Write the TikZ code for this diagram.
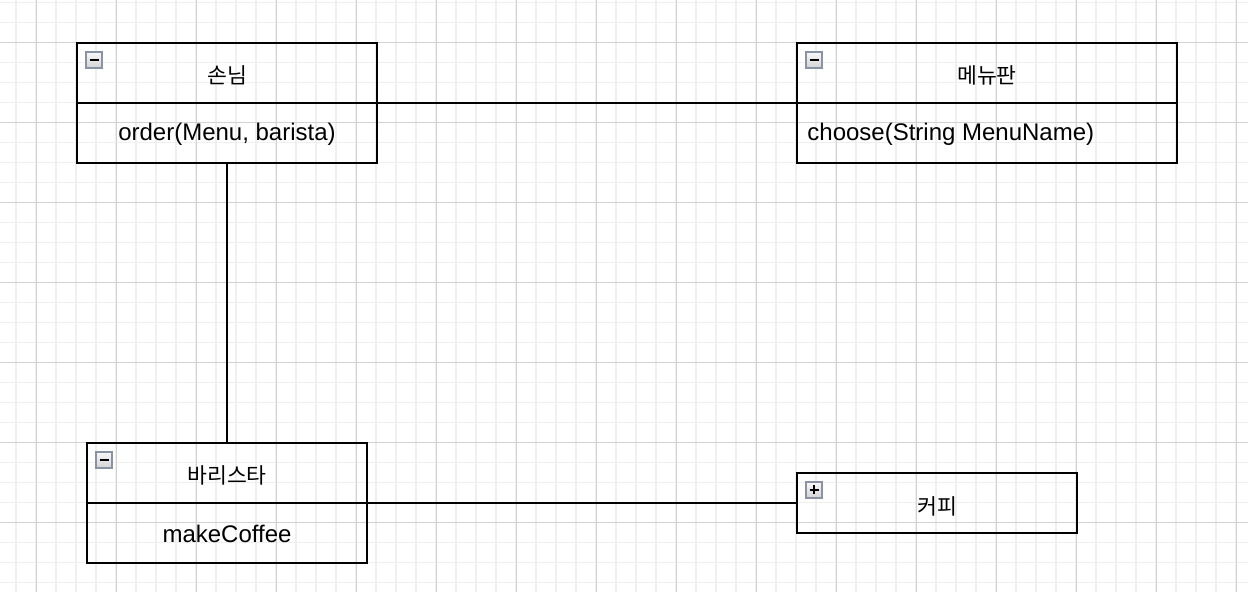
\documentclass[tikz,border=0pt]{standalone}
\usepackage{fontspec}
\setmainfont{Liberation Sans}
\newfontfamily\krfont{Noto Sans CJK KR}
\usetikzlibrary{calc}
\definecolor{gminor}{HTML}{EFEFEF}
\definecolor{gmajor}{HTML}{D2D2D2}
\definecolor{iconborder}{HTML}{8A92A5}
\tikzset{
  classbox/.style={draw, line width=1pt, rectangle, inner sep=0pt},
  divider/.style={line width=1pt},
  conn/.style={line width=1pt},
  krlabel/.style={inner sep=0pt, font=\krfont\fontsize{10.8pt}{12pt}\selectfont},
  oplabel/.style={inner sep=0pt, font=\fontsize{12pt}{14pt}\selectfont},
  iconframe/.style={top color=gray!5, bottom color=gray!35, draw=iconborder, line width=1pt},
  togglemin/.pic={
    \shade[iconframe] (0,0) rectangle (16,16);
    \draw[line width=1pt] (3.5,8) -- (12.5,8);
  },
  toggleplus/.pic={
    \shade[iconframe] (0,0) rectangle (16,16);
    \draw[line width=1pt] (3.5,8) -- (12.5,8);
    \draw[line width=1pt] (8,3.5) -- (8,12.5);
  }
}
\begin{document}
\begin{tikzpicture}[x=0.5pt,y=-0.5pt]
\useasboundingbox (0,0) rectangle (1248,592);
\fill[white] (0,0) rectangle (1248,592);
% grid
\foreach \gx in {16,36,...,1240} \draw[gminor, line width=0.7pt] (\gx,0) -- (\gx,592);
\foreach \gy in {2.5,22.5,...,592} \draw[gminor, line width=0.7pt] (0,\gy) -- (1248,\gy);
\foreach \gx in {36,116,...,1240} \draw[gmajor, line width=0.5pt] (\gx,0) -- (\gx,592);
\foreach \gy in {42.5,122.5,...,592} \draw[gmajor, line width=0.5pt] (0,\gy) -- (1248,\gy);

% class boxes
\node[classbox, minimum width=150pt, minimum height=60pt] (customer) at (227,103) {};
\node[classbox, minimum width=190pt, minimum height=60pt] (menu) at (987,103) {};
\node[classbox, minimum width=140pt, minimum height=60pt] (barista) at (227,503) {};
\node[classbox, minimum width=140pt, minimum height=30pt] (coffee) at (937,503) {};

\draw[divider] (customer.west) -- (customer.east);
\draw[divider] (menu.west) -- (menu.east);
\draw[divider] (barista.west) -- (barista.east);

% titles
\node[krlabel] (customerT) at ($(customer.north)+(0,33)$) {손님};
\node[krlabel] (menuT) at ($(menu.north)+(0,33)$) {메뉴판};
\node[krlabel] (baristaT) at ($(barista.north)+(0,33)$) {바리스타};
\node[krlabel] (coffeeT) at ($(coffee.center)+(0,3)$) {커피};

% operations
\node[oplabel] (customerOp) at ($(customer.south)+(0,-30)$) {order(Menu, barista)};
\node[oplabel, anchor=west] (menuOp) at ($(menu.south west)+(11,-30)$) {choose(String MenuName)};
\node[oplabel] (baristaOp) at ($(barista.south)+(0,-30)$) {makeCoffee};

% toggle icons
\pic at ($(customer.north west)+(10,10)$) {togglemin};
\pic at ($(menu.north west)+(10,10)$) {togglemin};
\pic at ($(barista.north west)+(10,10)$) {togglemin};
\pic at ($(coffee.north west)+(10,10)$) {toggleplus};

% connectors
\draw[conn] (customer.east) -- (menu.west);
\draw[conn] (customer.south) -- (barista.north);
\draw[conn] (barista.east) -- (coffee.west);
\end{tikzpicture}
\end{document}
